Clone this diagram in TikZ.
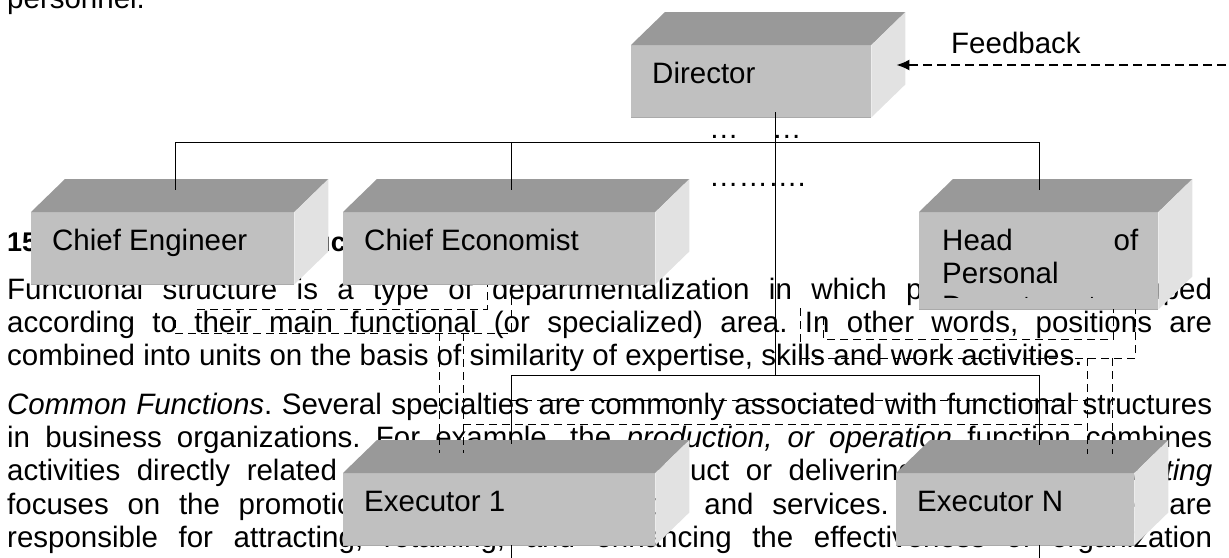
\documentclass[tikz,border=0pt]{standalone}
\usepackage{fontspec}
\setmainfont{Liberation Sans}
\usetikzlibrary{arrows.meta, calc}

\definecolor{cubeFront}{RGB}{192,192,192}
\definecolor{cubeTop}{RGB}{153,153,153}
\definecolor{cubeSide}{RGB}{226,226,226}
\definecolor{cubeEdge}{RGB}{170,170,170}
\newcommand{\pagefont}{\fontsize{29.5}{33.3}\selectfont\frenchspacing}

\tikzset{
    pageline/.style={
        anchor=base west,
        inner sep=0pt,
        font=\pagefont
    },
    face/.style={
        rectangle,
        anchor=north west,
        inner sep=0pt,
        fill=cubeFront
    },
    caption/.style={
        anchor=base west,
        inner sep=0pt,
        font=\pagefont
    },
    link/.style={
        line width=1pt,
        black
    },
    loop/.style={
        line width=1pt,
        black,
        dash pattern=on 8pt off 5pt
    },
    feedback/.style={
        line width=1.8pt,
        dash pattern=on 9pt off 5pt,
        -{Latex[length=13pt,width=11pt]}
    }
}

% top and side of a box drawn behind its front face
\newcommand{\cube}[1]{%
    \fill[cubeTop] (#1.north west) -- ++(34,-33) -- ($(#1.north east)+(34,-33)$) -- (#1.north east) -- cycle;
    \fill[cubeSide] (#1.north east) -- ++(34,-33) -- ($(#1.south east)+(34,-33)$) -- (#1.south east) -- cycle;
    \draw[cubeEdge, line width=1.5pt] (#1.south west) -- (#1.south east);
}

\begin{document}
\begin{tikzpicture}[x=1pt, y=-1pt]
    \useasboundingbox (0,0) rectangle (1229,557);

    % page text behind the chart
    \node[pageline] (prev) at (7,8) {personnel.};
    \node[pageline, font=\fontsize{27}{30}\selectfont\bfseries] (title) at (7,251) {15.2. The Functional Structure};
    \node[pageline] (p1) at (7,299) {\makebox[1205pt][s]{Functional structure is a type of departmentalization in which positions are grouped}};
    \node[pageline] (p2) at (7,332) {\makebox[1205pt][s]{according to their main functional (or specialized) area. In other words, positions are}};
    \node[pageline] (p3) at (7,365) {combined into units on the basis of similarity of expertise, skills and work activities.};
    \node[pageline] (p4) at (7,414) {\makebox[1205pt][s]{\textit{Common Functions}. Several specialties are commonly associated with functional structures}};
    \node[pageline] (p5) at (7,447) {\makebox[1205pt][s]{in business organizations. For example, the \textit{production, or operation} function combines}};
    \node[pageline] (p6) at (7,480) {\makebox[1205pt][s]{activities directly related to manufacturing a product or delivering a service. \textit{Marketing}}};
    \node[pageline] (p7) at (7,514) {\makebox[1205pt][s]{focuses on the promotion and sale of products and services. Human resources are}};
    \node[pageline] (p8) at (7,547) {\makebox[1205pt][s]{responsible for attracting, retaining, and enhancing the effectiveness of organization}};

    % gaps in the chart
    \node[pageline] (gapA) at (709,138) {…};
    \node[pageline] (gapB) at (772,138) {…};
    \node[pageline] (gapC) at (709,186) {……….};

    % boxes
    \node[face, minimum width=240pt, minimum height=72pt] (dir) at (631,45) {};
    \cube{dir}
    \node[face, minimum width=263pt, minimum height=72pt] (eng) at (31,212) {};
    \cube{eng}
    \node[face, minimum width=312pt, minimum height=72pt] (eco) at (343,212) {};
    \cube{eco}
    \node[face, minimum width=239pt, minimum height=97pt] (hop) at (919,212) {};
    \cube{hop}
    \node[face, minimum width=312pt, minimum height=72pt] (ex1) at (343,473) {};
    \cube{ex1}
    \node[face, minimum width=238pt, minimum height=72pt] (exn) at (896,473) {};
    \cube{exn}

    \node[caption] (dirtext) at ($(dir.north west)+(21,38)$) {Director};
    \node[caption] (engtext) at ($(eng.north west)+(21,38)$) {Chief Engineer};
    \node[caption] (ecotext) at ($(eco.north west)+(21,38)$) {Chief Economist};
    \node[caption] (ex1text) at ($(ex1.north west)+(21,38)$) {Executor 1};
    \node[caption] (exntext) at ($(exn.north west)+(21,38)$) {Executor N};
    \begin{scope}
        \clip (hop.north west) rectangle ($(hop.south east)+(0,-12)$);
        \node[caption, text width=196pt, align=left] (hoptext) at ($(hop.north west)+(23,38)$) {\makebox[196pt]{Head\hfill of}\\Personal\\Department};
    \end{scope}

    % solid lines
    \coordinate (jEng) at (175,142);
    \coordinate (jEco) at (511,142);
    \coordinate (jHop) at (1039,142);
    \coordinate (jDir) at (775,375);
    \coordinate (jEx1) at (511,375);
    \coordinate (jExn) at (1039,375);
    \draw[link] (jEng) -- (jHop);
    \draw[link] (jEng) -- ++(0,48);
    \draw[link] (jEco) -- ++(0,48);
    \draw[link] (jHop) -- ++(0,48);
    \draw[link] ($(dir.south west)+(144,-5)$) -- (jDir);
    \draw[link] (jEx1) -- (jExn);
    \draw[link] (jEx1) -- ++(0,69);
    \draw[link] (jExn) -- ++(0,70);
    \draw[link] (ex1.south -| jEx1) -- ++(0,15);
    \draw[link] (exn.south -| jExn) -- ++(0,15);

    % dashed loops
    \draw[loop] (197,309) -- (487,309) -- (487,285);
    \draw[loop] (175,320) -- (175,333) -- (511,333) -- (511,285);
    \draw[loop] (439,333) -- (439,453);
    \draw[loop] (463,333) -- (463,453);
    \draw[loop] (823,317) -- (823,339) -- (1113,339) -- (1113,309);
    \draw[loop] (800,308) -- (800,358) -- (1135,358) -- (1135,309);
    \draw[loop] (1087,358) -- (1087,454);
    \draw[loop] (1112,358) -- (1112,454);
    \draw[loop] (511,400) -- (1087,400);
    \draw[loop] (463,424) -- (1087,424);

    % feedback
    \node[caption] (fbtext) at (951,53) {Feedback};
    \coordinate (fbin) at (1240,65);
    \draw[feedback] (fbin) -- ($(dir.north east)+(25,20)$);
\end{tikzpicture}
\end{document}
